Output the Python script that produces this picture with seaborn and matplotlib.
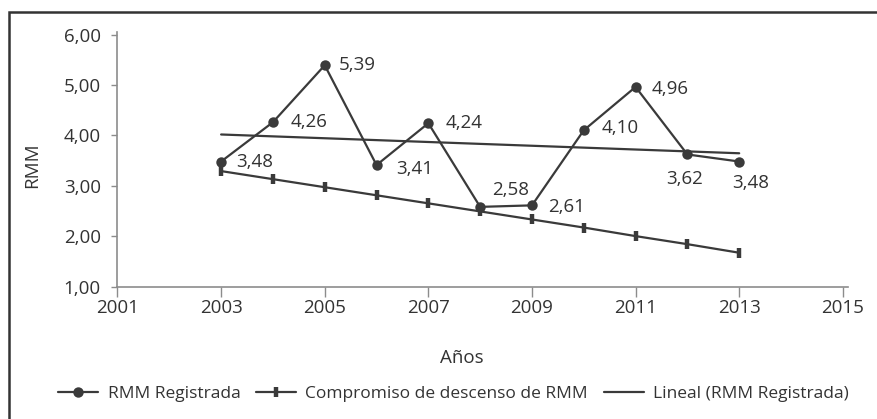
import numpy as np
import pandas as pd
import matplotlib
matplotlib.use("Agg")
import matplotlib.pyplot as plt
import seaborn as sns
from matplotlib.patches import Rectangle
from matplotlib.ticker import FuncFormatter

# Data
years = [2003, 2004, 2005, 2006, 2007, 2008, 2009, 2010, 2011, 2012, 2013]
rmm = [3.48, 4.26, 5.39, 3.41, 4.24, 2.58, 2.61, 4.10, 4.96, 3.62, 3.48]
compromiso = [3.29, 3.13, 2.97, 2.81, 2.65, 2.49, 2.33, 2.17, 2.00, 1.84, 1.67]
x_ticks = [2001, 2003, 2005, 2007, 2009, 2011, 2013, 2015]
y_ticks = [1, 2, 3, 4, 5, 6]

# label offsets in pixels (dx, dy, ha)
offsets = [(15, 0, 'left'), (18, 0, 'left'), (14, 0, 'left'), (20, -4, 'left'),
           (17, 0, 'left'), (12, 17, 'left'), (16, -2, 'left'), (18, 2, 'left'),
           (16, -2, 'left'), (-3, -25, 'center'), (11, -21, 'center')]

df = pd.DataFrame({'year': years, 'rmm': rmm, 'compromiso': compromiso})

sns.set_style("white")
plt.rcParams['font.family'] = ['Open Sans', 'DejaVu Sans']
dark = '#3a3a3a'
grey = '#8c8c8c'
txt = '#333333'
fs = 13.5

fig = plt.figure(figsize=(8.78, 4.19), dpi=100)
ax = fig.add_axes([117.5 / 878, 1 - 286.5 / 419, 730.5 / 878, 254.5 / 419])

sns.lineplot(data=df, x='year', y='rmm', ax=ax, color=dark, lw=1.6,
             marker='o', markersize=7.5, markeredgewidth=0, label='RMM Registrada')
ax.plot(df['year'], df['compromiso'], color=dark, lw=1.6, ls='-',
        marker='|', markersize=7.5, markeredgewidth=3.2,
        label='Compromiso de descenso de RMM')
sns.regplot(data=df, x='year', y='rmm', ax=ax, scatter=False, ci=None,
            truncate=True, color=dark, line_kws={'lw': 1.6},
            label='Lineal (RMM Registrada)')

for x, y, (dx, dy, ha) in zip(years, rmm, offsets):
    ax.annotate(f"{y:.2f}".replace('.', ','), (x, y), xytext=(dx, dy),
                textcoords='offset pixels', ha=ha, va='center',
                fontsize=fs, color=txt)

ax.set_xlim(2001, 2015.1)
ax.set_ylim(1, 6.05)
ax.set_xticks(x_ticks)
ax.set_yticks(y_ticks)
ax.yaxis.set_major_formatter(FuncFormatter(lambda v, p: f"{v:.2f}".replace('.', ',')))
ax.tick_params(axis='x', direction='out', length=7, width=1, color=grey,
               labelsize=fs, labelcolor=txt, pad=2)
ax.tick_params(axis='y', direction='out', length=4, width=1, color=grey,
               labelsize=fs, labelcolor=txt, pad=8)
ax.tick_params(left=True, bottom=True)

for side in ['top', 'right']:
    ax.spines[side].set_visible(False)
for side in ['left', 'bottom']:
    ax.spines[side].set_color(grey)
    ax.spines[side].set_linewidth(1.2)

ax.set_xlabel('Años', fontsize=fs, color=txt)
ax.set_ylabel('RMM', fontsize=fs, color=txt)
ax.xaxis.set_label_coords(0.471, -0.245)
ax.yaxis.set_label_coords(-0.104, 0.475)

handles, labels = ax.get_legend_handles_labels()
ax.legend(handles, labels, loc='center', bbox_to_anchor=(0.5165, 0.06),
          bbox_transform=fig.transFigure, ncol=3, frameon=False,
          fontsize=12.5, handlelength=2.3, handletextpad=0.55,
          columnspacing=0.9, labelcolor=txt)

# outer frame (only left and top edges are visible in the picture)
fig.patches.append(Rectangle((9 / 878, -0.1), 1.2, 1.1 - 12 / 419,
                             transform=fig.transFigure, fill=False,
                             edgecolor=txt, lw=1.8))

fig.savefig('out.png', dpi=100)
